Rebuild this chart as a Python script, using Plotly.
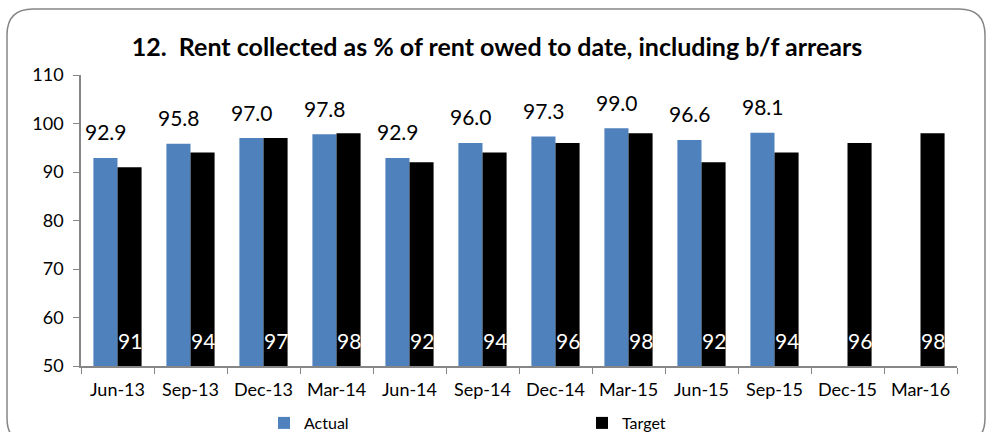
import plotly.graph_objects as go

categories = ["Jun-13", "Sep-13", "Dec-13", "Mar-14", "Jun-14", "Sep-14",
              "Dec-14", "Mar-15", "Jun-15", "Sep-15", "Dec-15", "Mar-16"]
actual = [92.9, 95.8, 97.0, 97.8, 92.9, 96.0, 97.3, 99.0, 96.6, 98.1, None, None]
target = [91, 94, 97, 98, 92, 94, 96, 98, 92, 94, 96, 98]
y_ticks = [50, 60, 70, 80, 90, 100, 110]

FONT = "Lato"
BLUE = "#4F81BD"
GRAY = "#868686"

fig = go.Figure()
fig.add_trace(go.Bar(name="Actual", x=categories, y=actual, marker_color=BLUE,
                     marker_line_width=0, hoverinfo="x+y"))
fig.add_trace(go.Bar(name="Target", x=categories, y=target, marker_color="black",
                     marker_line_width=0, hoverinfo="x+y"))

annotations = []
for c, v in zip(categories, actual):
    if v is None:
        continue
    annotations.append(dict(x=c, y=v, xref="x", yref="y", text=f"{v:.1f}",
                            showarrow=False, xshift=-12, yshift=26,
                            yanchor="middle", font=dict(family=FONT, size=21, color="black")))
for c, v in zip(categories, target):
    annotations.append(dict(x=c, y=y_ticks[0], xref="x", yref="y", text=f"{v}",
                            showarrow=False, xshift=12, yshift=26,
                            yanchor="middle", font=dict(family=FONT, size=21, color="white")))

# rounded chart border (paper coords; plot area 876 x 291 px)
W, H = 876.0, 291.0
def px(xp):
    return (xp - 81) / W
def py(yp):
    return (366 - yp) / H
L, R, T, B, r = 7, 985, 9, 444, 26
path = (f"M {px(L+r)},{py(T)} L {px(R-r)},{py(T)} Q {px(R)},{py(T)} {px(R)},{py(T+r)} "
        f"L {px(R)},{py(B-r)} Q {px(R)},{py(B)} {px(R-r)},{py(B)} "
        f"L {px(L+r)},{py(B)} Q {px(L)},{py(B)} {px(L)},{py(B-r)} "
        f"L {px(L)},{py(T+r)} Q {px(L)},{py(T)} {px(L+r)},{py(T)} Z")

fig.update_layout(
    width=1008, height=432,
    margin=dict(l=81, r=51, t=75, b=66, autoexpand=False),
    paper_bgcolor="white", plot_bgcolor="white",
    barmode="group", bargap=0.34, bargroupgap=0,
    font=dict(family=FONT, size=18, color="black"),
    title=dict(text="<b>12.  Rent collected as % of rent owed to date, including b/f arrears</b>",
               x=497 / 1008, xanchor="center", xref="container",
               y=1 - 47 / 432, yanchor="middle", yref="container",
               font=dict(family=FONT, size=25, color="black")),
    showlegend=True,
    legend=dict(orientation="h", x=px(264), xanchor="left", xref="paper",
                y=py(423), yanchor="middle", yref="paper",
                entrywidth=273, entrywidthmode="pixels",
                font=dict(family=FONT, size=16, color="black"),
                itemwidth=30, traceorder="normal"),
    annotations=annotations,
    shapes=[dict(type="path", path=path, xref="paper", yref="paper",
                 line=dict(color=GRAY, width=1.5), fillcolor="rgba(0,0,0,0)", layer="below")],
)
fig.update_xaxes(type="category", showline=True, linecolor=GRAY, linewidth=1.5,
                 ticks="outside", ticklen=6, tickcolor=GRAY, tickson="boundaries",
                 showgrid=False, ticklabelstandoff=7,
                 tickfont=dict(family=FONT, size=18, color="black"))
fig.update_yaxes(range=[50, 110], tickvals=y_ticks, showline=True, linecolor=GRAY,
                 linewidth=1.5, ticks="outside", ticklen=6, tickcolor=GRAY,
                 showgrid=False, zeroline=False, ticklabelstandoff=6,
                 tickfont=dict(family=FONT, size=18, color="black"))

fig.write_html("out.html", config={"displayModeBar": False},
               post_script="document.body.style.margin='0';")
